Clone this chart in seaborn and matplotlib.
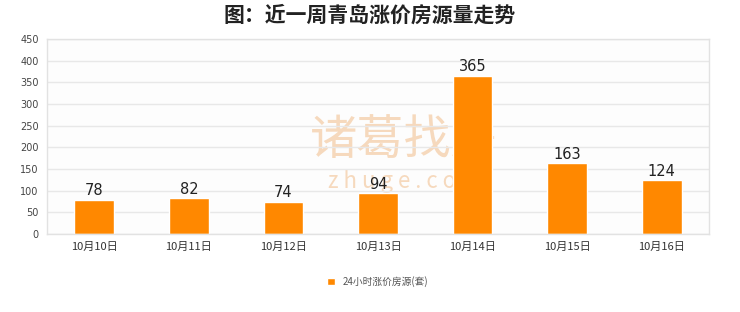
import matplotlib
matplotlib.use("Agg")
import matplotlib.pyplot as plt
import seaborn as sns
import pandas as pd

categories = ["10月10日", "10月11日", "10月12日", "10月13日", "10月14日", "10月15日", "10月16日"]
values = [78, 82, 74, 94, 365, 163, 124]
series_name = "24小时涨价房源(套)"
title = "图：近一周青岛涨价房源量走势"
yticks = [0, 50, 100, 150, 200, 250, 300, 350, 400, 450]

sns.set_theme(style="white")
plt.rcParams['font.family'] = ['Noto Sans CJK SC', 'DejaVu Sans']

df = pd.DataFrame({"date": categories, "value": values, "series": series_name})

fig = plt.figure(figsize=(7.4, 3.12), dpi=100)
fig.patch.set_facecolor("white")
ax = fig.add_axes([47/740, 1-234/312, (709-47)/740, (234-39)/312])
ax.set_facecolor("#fdfdfd")

# watermark
ax.text(0.54, 0.48, "诸葛找房", transform=ax.transAxes, ha="center", va="center",
        fontsize=34, color="#f6d9bd", zorder=0.5)
ax.text(0.54, 0.27, "z h u g e . c o m", transform=ax.transAxes, ha="center", va="center",
        fontsize=16, color="#f6d9bd", zorder=0.5)

sns.barplot(data=df, x="date", y="value", hue="series", palette=["#ff8800"],
            width=0.42, ax=ax, zorder=2, saturation=1, legend=True)

for i, v in enumerate(values):
    ax.text(i, v + 4, str(v), ha="center", va="bottom", fontsize=10.5, color="#222222",
            family=['DejaVu Sans'], zorder=3)

ax.set_ylim(0, 450)
ax.set_yticks(yticks)
ax.set_yticklabels([str(t) for t in yticks], fontsize=7, color="#444444", family=['DejaVu Sans'])
ax.tick_params(axis="x", labelsize=8, colors="#333333", length=0, pad=6)
ax.tick_params(axis="y", length=0, pad=6)
ax.grid(axis="y", color="#e8e8e8", linewidth=1, zorder=0)
ax.set_axisbelow(True)
for s in ax.spines.values():
    s.set_color("#e2e2e2")
    s.set_linewidth(1)
ax.set_xlabel("")
ax.set_ylabel("")

leg = ax.legend(loc="center", bbox_to_anchor=(0.5, -0.245), frameon=False, fontsize=7,
                handlelength=0.8, handleheight=0.8, handletextpad=0.8, labelcolor="#555555")

fig.suptitle(title, y=0.985, fontsize=15, fontweight="bold", color="#222222", va="top")

fig.savefig("out.png", dpi=100, facecolor="white")
